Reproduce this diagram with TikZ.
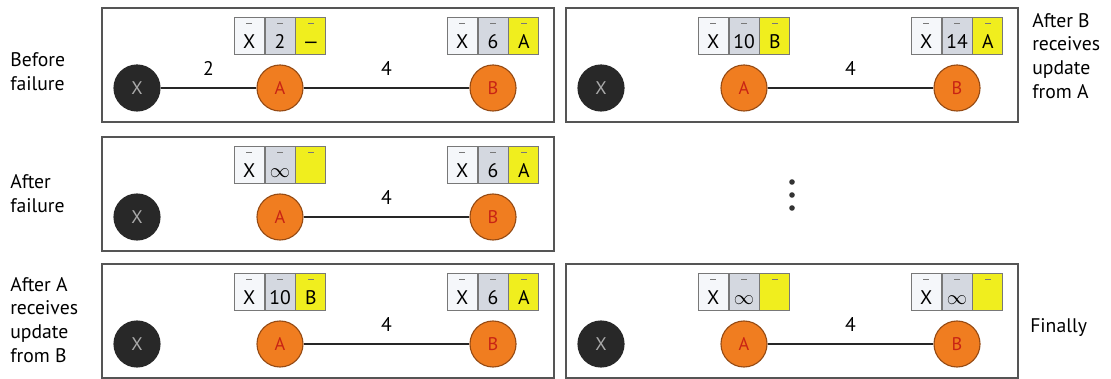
\documentclass[tikz,border=0pt]{standalone}
\usepackage{fontspec}
\setmainfont{PT Sans}
\usetikzlibrary{positioning}
\definecolor{PanelLine}{RGB}{85,85,85}
\definecolor{CellLine}{RGB}{120,120,120}
\definecolor{DestFill}{RGB}{245,247,250}
\definecolor{CostFill}{RGB}{212,216,224}
\definecolor{HopFill}{RGB}{240,238,30}
\definecolor{RouterOrange}{RGB}{240,125,32}
\definecolor{RouterEdge}{RGB}{150,75,20}
\definecolor{RouterText}{RGB}{200,35,20}
\definecolor{DownFill}{RGB}{40,40,40}
\definecolor{DownText}{RGB}{170,170,170}
\tikzset{
  panel/.style={draw=PanelLine,line width=1.1pt,fill=white,
    minimum width=11.3cm,minimum height=2.85cm,inner sep=0pt},
  router/.style={circle,draw=RouterEdge,fill=RouterOrange,line width=0.8pt,
    minimum size=1.15cm,inner sep=0pt,text=RouterText,font=\fontsize{13}{13}\selectfont},
  downrouter/.style={router,draw=DownFill,fill=DownFill,text=DownText},
  cell/.style={draw=CellLine,line width=0.6pt,minimum width=0.75cm,minimum height=0.92cm,
    inner sep=0pt,text height=0.62cm,text depth=0pt,font=\fontsize{14}{14}\selectfont,
    path picture={\draw[CellLine,line width=0.4pt]
      ([xshift=-2pt,yshift=-4pt]path picture bounding box.north) --
      ([xshift=2pt,yshift=-4pt]path picture bounding box.north);}},
  destcell/.style={cell,fill=DestFill},
  costcell/.style={cell,fill=CostFill},
  hopcell/.style={cell,fill=HopFill},
  link/.style={draw=black!85,line width=1.1pt},
  weight/.style={above=0.3cm,inner sep=0pt,font=\fontsize{14}{14}\selectfont},
  sidelabel/.style={anchor=west,align=left,inner sep=0pt,font=\fontsize{14}{17}\selectfont},
  dot/.style={circle,fill=black!80,minimum size=0.14cm,inner sep=0pt}
}

\begin{document}
\begin{tikzpicture}[x=0.025cm,y=-0.025cm]
  \useasboundingbox (0,0) rectangle (1111,379);

  % before failure
  \node[panel] (p1) at (328,65) {};
  \node[downrouter] (x1) at (137,88) {X};
  \node[router] (a1) at (280,88) {A};
  \node[router] (b1) at (493,88) {B};
  \node[costcell,above=0.25cm of a1] (a1c) {2};
  \node[destcell,left=0pt of a1c] (a1d) {X};
  \node[hopcell,right=0pt of a1c] (a1h) {—};
  \node[costcell,above=0.25cm of b1] (b1c) {6};
  \node[destcell,left=0pt of b1c] (b1d) {X};
  \node[hopcell,right=0pt of b1c] (b1h) {A};
  \draw[link] (x1) -- node[weight] {2} (a1);
  \draw[link] (a1) -- node[weight] {4} (b1);
  \node[sidelabel] (l1) at (10,72) {Before\\failure};

  % after B receives update from A
  \node[panel] (p2) at (792,65) {};
  \node[downrouter] (x2) at (601,88) {X};
  \node[router] (a2) at (744,88) {A};
  \node[router] (b2) at (957,88) {B};
  \node[costcell,above=0.25cm of a2] (a2c) {10};
  \node[destcell,left=0pt of a2c] (a2d) {X};
  \node[hopcell,right=0pt of a2c] (a2h) {B};
  \node[costcell,above=0.25cm of b2] (b2c) {14};
  \node[destcell,left=0pt of b2c] (b2d) {X};
  \node[hopcell,right=0pt of b2c] (b2h) {A};
  \draw[link] (a2) -- node[weight] {4} (b2);
  \node[sidelabel] (l2) at (1032,56) {After B\\receives\\update\\from A};

  % after failure
  \node[panel] (p3) at (328,194) {};
  \node[downrouter] (x3) at (137,217) {X};
  \node[router] (a3) at (280,217) {A};
  \node[router] (b3) at (493,217) {B};
  \node[costcell,above=0.25cm of a3] (a3c) {$\infty$};
  \node[destcell,left=0pt of a3c] (a3d) {X};
  \node[hopcell,right=0pt of a3c] (a3h) {};
  \node[costcell,above=0.25cm of b3] (b3c) {6};
  \node[destcell,left=0pt of b3c] (b3d) {X};
  \node[hopcell,right=0pt of b3c] (b3h) {A};
  \draw[link] (a3) -- node[weight] {4} (b3);
  \node[sidelabel] (l3) at (10,194) {After\\failure};

  % still counting
  \node[dot] (d1) at (792,182) {};
  \node[dot] (d2) at (792,195) {};
  \node[dot] (d3) at (792,208) {};

  % after A receives update from B
  \node[panel] (p4) at (328,321) {};
  \node[downrouter] (x4) at (137,344) {X};
  \node[router] (a4) at (280,344) {A};
  \node[router] (b4) at (493,344) {B};
  \node[costcell,above=0.25cm of a4] (a4c) {10};
  \node[destcell,left=0pt of a4c] (a4d) {X};
  \node[hopcell,right=0pt of a4c] (a4h) {B};
  \node[costcell,above=0.25cm of b4] (b4c) {6};
  \node[destcell,left=0pt of b4c] (b4d) {X};
  \node[hopcell,right=0pt of b4c] (b4h) {A};
  \draw[link] (a4) -- node[weight] {4} (b4);
  \node[sidelabel] (l4) at (10,320) {After A\\receives\\update\\from B};

  % finally
  \node[panel] (p5) at (792,321) {};
  \node[downrouter] (x5) at (601,344) {X};
  \node[router] (a5) at (744,344) {A};
  \node[router] (b5) at (957,344) {B};
  \node[costcell,above=0.25cm of a5] (a5c) {$\infty$};
  \node[destcell,left=0pt of a5c] (a5d) {X};
  \node[hopcell,right=0pt of a5c] (a5h) {};
  \node[costcell,above=0.25cm of b5] (b5c) {$\infty$};
  \node[destcell,left=0pt of b5c] (b5d) {X};
  \node[hopcell,right=0pt of b5c] (b5h) {};
  \draw[link] (a5) -- node[weight] {4} (b5);
  \node[sidelabel] (l5) at (1030,328) {Finally};
\end{tikzpicture}
\end{document}
